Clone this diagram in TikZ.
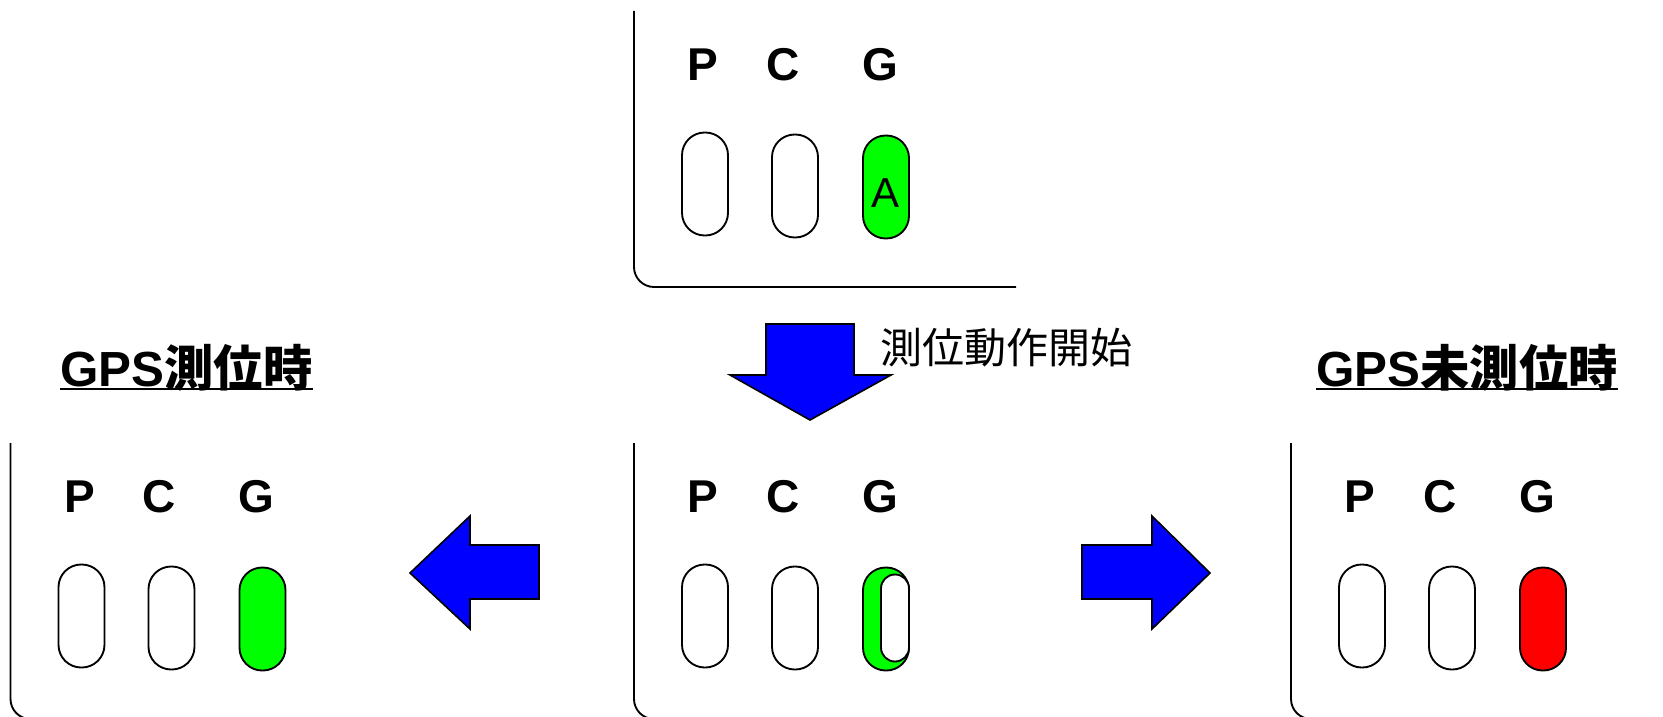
\documentclass[tikz,border=0pt]{standalone}
\usepackage{fontspec}
\setmainfont{Liberation Sans}
\newfontfamily\cjk{Noto Sans CJK JP}
\definecolor{ledgreen}{RGB}{0,255,0}
\definecolor{ledred}{RGB}{255,0,0}
\definecolor{arrowblue}{RGB}{0,0,255}
\newcommand\ledpanel[4]{%
  \begin{scope}[shift={(#1,#2)}]
    \draw[panelline] (634,11) -- (634,287) -- (1016,287);
    \node[lbl] (#3lP) at (703,80) {P};
    \node[lbl] (#3lC) at (783,80) {C};
    \node[lbl] (#3lG) at (880,80) {G};
    \node[pill] (#3pP) at (705,184) {};
    \node[pill] (#3pC) at (795,186) {};
    \node[pill, fill=#4] (#3pG) at (886,187) {};
  \end{scope}}
\begin{document}
\begin{tikzpicture}[x=0.75pt,y=-0.75pt,
  panelline/.style={line width=1.4pt, rounded corners=15pt},
  pill/.style={draw, line width=1.4pt, fill=white, minimum width=34.5pt,
    minimum height=77.25pt, rounded corners=17pt, inner sep=0pt},
  lbl/.style={font=\fontsize{34.5}{36}\selectfont\bfseries, anchor=base, inner sep=0pt},
  blockarrow/.style={draw, line width=1.2pt, fill=arrowblue, line join=miter},
  heading/.style={anchor=base west, inner sep=0pt, font=\fontsize{37}{40}\selectfont\bfseries},
  uline/.style={line width=1.5pt}]
\useasboundingbox (0,0) rectangle (1663,717);
\clip (0,0) rectangle (1663,717);
\fill[white] (0,0) rectangle (1663,717);

% panels
\ledpanel{0}{0}{top}{ledgreen}
\ledpanel{0}{432}{mid}{ledgreen}
\ledpanel{-623.5}{432}{lft}{ledgreen}
\ledpanel{657}{432}{rgt}{ledred}

% top G label "A"
\node[anchor=base, inner sep=0pt, font=\fontsize{31.5}{33}\selectfont] (topA) at (885,207) {A};

% middle G: inner white pill
\node[draw, line width=1.4pt, fill=white, minimum width=21pt, minimum height=65.25pt,
  rounded corners=10.4pt, inner sep=0pt] (midInner) at (895,618) {};

% arrows
\draw[blockarrow] (766,324) -- (854,324) -- (854,375) -- (891,375) -- (810,420)
  -- (730,375) -- (766,375) -- cycle;
\draw[blockarrow] (539,545) -- (470,545) -- (470,516) -- (410,573) -- (470,629)
  -- (470,599) -- (539,599) -- cycle;
\draw[blockarrow] (1082,545) -- (1152,545) -- (1152,516) -- (1210,573) -- (1152,629)
  -- (1152,599) -- (1082,599) -- cycle;

% texts
\node[anchor=west, inner sep=0pt, font=\cjk\fontsize{31.5}{34}\selectfont] (start) at (880,348) {測位動作開始};
\node[heading] (hL) at (60,386) {GPS{\cjk 測位時}};
\draw[uline] ([yshift=-2.6pt]hL.base west) -- ([yshift=-2.6pt]hL.base east);
\node[heading] (hR) at (1316,386) {GPS{\cjk 未測位時}};
\draw[uline] ([yshift=-2.6pt]hR.base west) -- ([yshift=-2.6pt]hR.base east);
\end{tikzpicture}
\end{document}
